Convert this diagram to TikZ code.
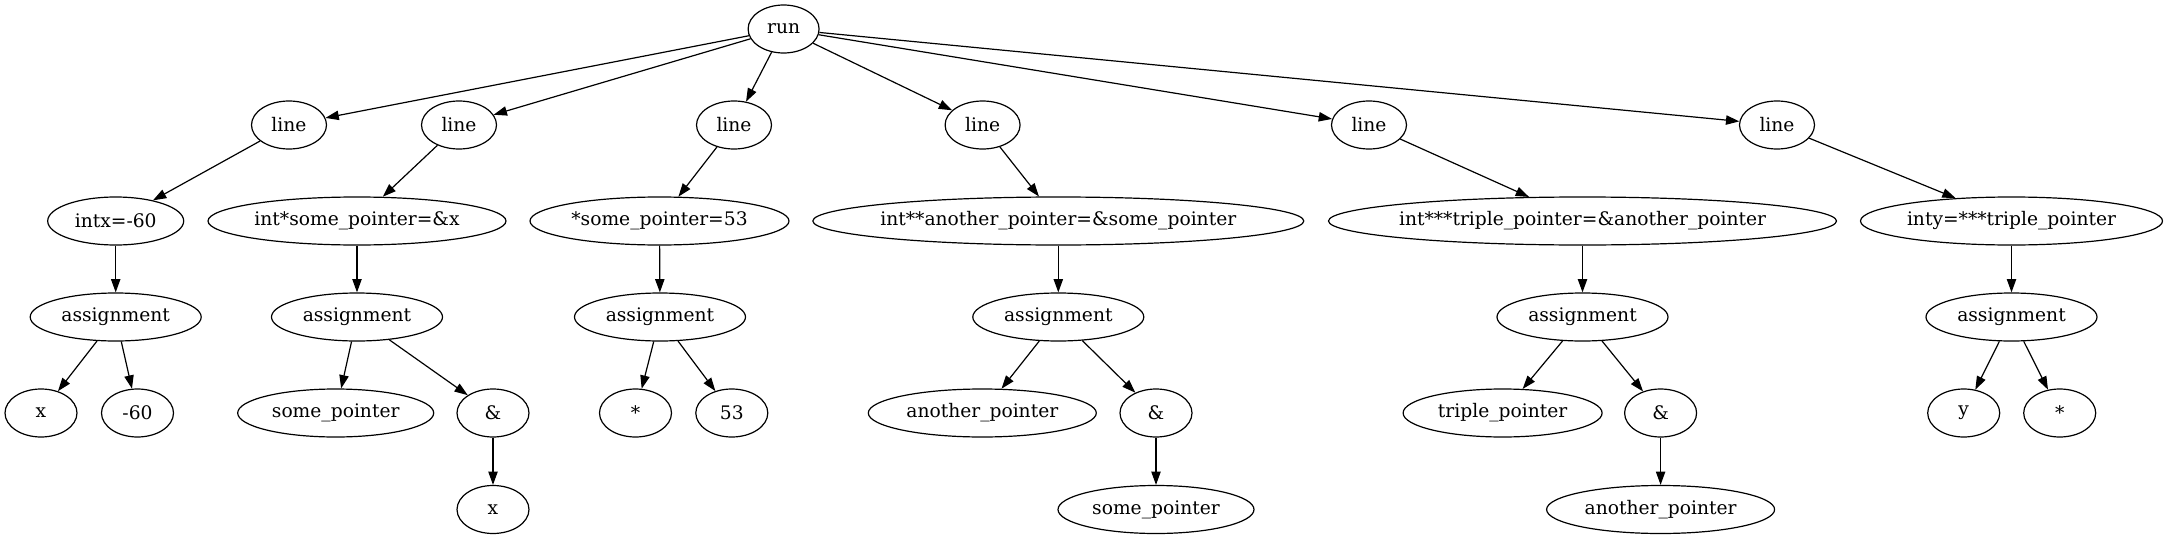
\documentclass[tikz,border=0pt]{standalone}
\usepackage{fontspec}
\setmainfont{DejaVu Serif}
\usetikzlibrary{shapes.geometric,arrows.meta}
\begin{document}
\begin{tikzpicture}[x=0.75pt,y=-0.75pt,
  gv/.style={ellipse,draw,line width=0.9pt,inner ysep=0pt,inner xsep=-20pt,minimum height=36pt,
    font=\fontsize{14pt}{16pt}\selectfont},
  w/.style={minimum width=#1*0.75pt},
  arr/.style={draw,line width=0.9pt,-{Triangle[length=10pt,width=7pt]}}]
\useasboundingbox (0,0) rectangle (2168,539);
% level 0
\node[gv,w=71] (run) at (783.6,29) {run};
% level 1
\node[gv,w=75] (l1) at (289,125) {line};
\node[gv,w=75] (l2) at (459,125) {line};
\node[gv,w=75] (l3) at (734,125) {line};
\node[gv,w=75] (l4) at (982.6,125) {line};
\node[gv,w=75] (l5) at (1369,125) {line};
\node[gv,w=75] (l6) at (1777,125) {line};
% level 2
\node[gv,w=136] (s1) at (115.7,221) {intx=-60};
\node[gv,w=298] (s2) at (357,221) {int*some\_pointer=\&x};
\node[gv,w=259] (s3) at (659.5,221) {*some\_pointer=53};
\node[gv,w=491] (s4) at (1058.3,221) {int**another\_pointer=\&some\_pointer};
\node[gv,w=508] (s5) at (1582.5,221) {int***triple\_pointer=\&another\_pointer};
\node[gv,w=302] (s6) at (2011.5,221) {inty=***triple\_pointer};
% level 3
\node[gv,w=171] (a1) at (115.7,317) {assignment};
\node[gv,w=171] (a2) at (357,317) {assignment};
\node[gv,w=171] (a3) at (660,317) {assignment};
\node[gv,w=171] (a4) at (1058.3,317) {assignment};
\node[gv,w=171] (a5) at (1582.5,317) {assignment};
\node[gv,w=171] (a6) at (2011.5,317) {assignment};
% level 4
\node[gv,w=72] (x1) at (41,413) {x};
\node[gv,w=72] (n60) at (137.5,413) {-60};
\node[gv,w=196] (sp1) at (335.7,413) {some\_pointer};
\node[gv,w=72] (amp1) at (493,413) {\&};
\node[gv,w=72] (st1) at (635.5,413) {*};
\node[gv,w=72] (n53) at (731.8,413) {53};
\node[gv,w=228] (ap1) at (982.3,413) {another\_pointer};
\node[gv,w=72] (amp2) at (1156,413) {\&};
\node[gv,w=199] (tp1) at (1502.6,413) {triple\_pointer};
\node[gv,w=72] (amp3) at (1660.6,413) {\&};
\node[gv,w=72] (y1) at (1963.7,413) {y};
\node[gv,w=72] (st2) at (2059.7,413) {*};
% level 5
\node[gv,w=72] (x2) at (493,509.5) {x};
\node[gv,w=196] (sp2) at (1156,509.5) {some\_pointer};
\node[gv,w=228] (ap2) at (1660.6,509.5) {another\_pointer};
% edges
\foreach \t in {l1,l2,l3,l4,l5,l6} \draw[arr] (run) -- (\t);
\foreach \i in {1,...,6} {
  \draw[arr] (l\i) -- (s\i);
  \draw[arr] (s\i) -- (a\i);
}
\draw[arr] (a1) -- (x1);
\draw[arr] (a1) -- (n60);
\draw[arr] (a2) -- (sp1);
\draw[arr] (a2) -- (amp1);
\draw[arr] (amp1) -- (x2);
\draw[arr] (a3) -- (st1);
\draw[arr] (a3) -- (n53);
\draw[arr] (a4) -- (ap1);
\draw[arr] (a4) -- (amp2);
\draw[arr] (amp2) -- (sp2);
\draw[arr] (a5) -- (tp1);
\draw[arr] (a5) -- (amp3);
\draw[arr] (amp3) -- (ap2);
\draw[arr] (a6) -- (y1);
\draw[arr] (a6) -- (st2);
\end{tikzpicture}
\end{document}
